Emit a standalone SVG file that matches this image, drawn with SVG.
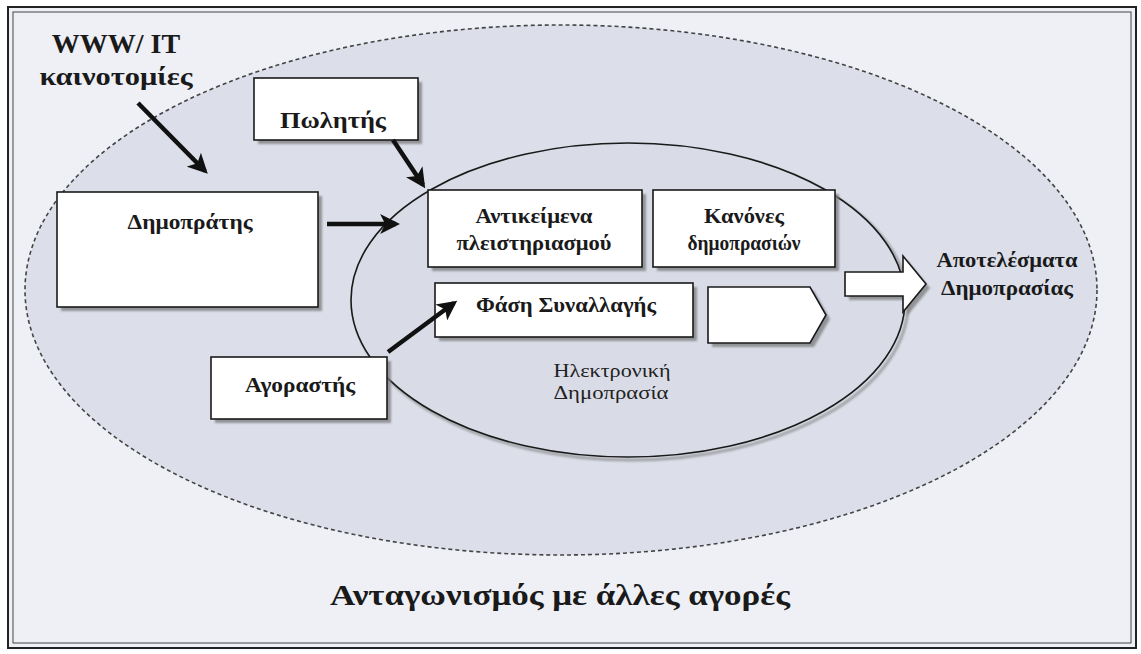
<svg xmlns="http://www.w3.org/2000/svg" width="1141" height="654" viewBox="0 0 1141 654">
<defs>
<style>
.bx{fill:#ffffff;stroke:#1a1a1a;stroke-width:1.6}
.sh{fill:#7a7a7a;opacity:0.75;filter:url(#blur)}
.lb{font-family:"Liberation Serif","DejaVu Serif",serif;font-weight:bold;fill:#1a1a1a;text-anchor:middle}
.nl{font-family:"Liberation Serif","DejaVu Serif",serif;fill:#222;text-anchor:middle}
.ar{stroke:#111;stroke-width:4.5;fill:none;marker-end:url(#ah)}
</style>
<filter id="blur" x="-10%" y="-10%" width="130%" height="130%"><feGaussianBlur stdDeviation="1.2"/></filter>
<marker id="ah" viewBox="0 0 10 10" refX="8" refY="5" markerWidth="4.4" markerHeight="4.4" orient="auto" markerUnits="strokeWidth">
<path d="M0,0 L10,5 L0,10 L2.5,5 z" fill="#111"/>
</marker>
</defs>
<rect x="0" y="0" width="1141" height="654" fill="#ffffff"/>
<rect x="8" y="7" width="1128" height="641" fill="#eef0f6" stroke="#222" stroke-width="2"/>
<rect x="13" y="12" width="1118" height="631" fill="none" stroke="#444" stroke-width="1"/>
<g id="market">
<ellipse cx="561" cy="290" rx="536" ry="265" fill="#dcdfea" stroke="#444" stroke-width="1.6" stroke-dasharray="4,3"/>
</g>
<g id="auction">
<ellipse cx="631" cy="303" rx="277" ry="157" fill="none" stroke="#888" stroke-width="3" opacity="0.7" filter="url(#blur)"/>
<ellipse cx="628" cy="300" rx="277" ry="157" fill="#d9dce7" stroke="#1a1a1a" stroke-width="1.6"/>
<text class="nl" x="612" y="377" font-size="19" textLength="117" lengthAdjust="spacingAndGlyphs">Ηλεκτρονική</text>
<text class="nl" x="611" y="399" font-size="19" textLength="115" lengthAdjust="spacingAndGlyphs">Δημοπρασία</text>
</g>
<g id="www">
<text class="lb" x="116" y="53" font-size="28">WWW/ IT</text>
<text class="lb" x="116" y="85" font-size="26" textLength="153" lengthAdjust="spacingAndGlyphs">καινοτομίες</text>
</g>
<g id="seller">
<rect class="sh" x="258" y="82" width="164" height="62"/>
<rect class="bx" x="254" y="78" width="164" height="62"/>
<text class="lb" x="333" y="128" font-size="23" textLength="106" lengthAdjust="spacingAndGlyphs">Πωλητής</text>
</g>
<g id="auctioneer">
<rect class="sh" x="61" y="196" width="261" height="115"/>
<rect class="bx" x="57" y="192" width="261" height="115"/>
<text class="lb" x="190" y="229" font-size="21" textLength="125" lengthAdjust="spacingAndGlyphs">Δημοπράτης</text>
</g>
<g id="items">
<rect class="sh" x="432" y="194" width="214" height="77"/>
<rect class="bx" x="428" y="190" width="214" height="77"/>
<text class="lb" x="534" y="223" font-size="21" textLength="117" lengthAdjust="spacingAndGlyphs">Αντικείμενα</text>
<text class="lb" x="534" y="250" font-size="21" textLength="155" lengthAdjust="spacingAndGlyphs">πλειστηριασμού</text>
</g>
<g id="rules">
<rect class="sh" x="657" y="194" width="182" height="77"/>
<rect class="bx" x="653" y="190" width="182" height="77"/>
<text class="lb" x="744" y="223" font-size="21" textLength="80" lengthAdjust="spacingAndGlyphs">Κανόνες</text>
<text class="lb" x="744" y="250" font-size="21" textLength="113" lengthAdjust="spacingAndGlyphs">δημοπρασιών</text>
</g>
<g id="phase">
<rect class="sh" x="439" y="287" width="258" height="54"/>
<rect class="bx" x="435" y="283" width="258" height="54"/>
<text class="lb" x="566" y="312" font-size="21" textLength="180" lengthAdjust="spacingAndGlyphs">Φάση Συναλλαγής</text>
</g>
<g id="phase-arrow">
<polygon class="sh" points="712,291 814,291 830,319 814,347 712,347"/>
<polygon class="bx" points="708,287 810,287 826,315 810,343 708,343"/>
</g>
<g id="buyer">
<rect class="sh" x="215" y="361" width="176" height="62"/>
<rect class="bx" x="211" y="357" width="176" height="62"/>
<text class="lb" x="300" y="392" font-size="21" textLength="110" lengthAdjust="spacingAndGlyphs">Αγοραστής</text>
</g>
<g id="result-arrow">
<polygon class="sh" points="849,276 907,276 907,260 930,288 907,316 907,300 849,300"/>
<polygon class="bx" points="845,272 903,272 903,256 926,284 903,312 903,296 845,296"/>
</g>
<g id="results">
<text class="lb" x="1007" y="267" font-size="21" textLength="141" lengthAdjust="spacingAndGlyphs">Αποτελέσματα</text>
<text class="lb" x="1007" y="295" font-size="21" textLength="132" lengthAdjust="spacingAndGlyphs">Δημοπρασίας</text>
</g>
<g id="competition">
<text class="lb" x="560" y="605" font-size="30" textLength="460" lengthAdjust="spacingAndGlyphs">Ανταγωνισμός με άλλες αγορές</text>
</g>
<g id="connectors">
<line class="ar" x1="138" y1="103" x2="205" y2="171"/>
<line class="ar" x1="393" y1="140" x2="423" y2="185"/>
<line class="ar" x1="327" y1="224" x2="396" y2="224"/>
<line class="ar" x1="388" y1="352" x2="454" y2="303"/>
</g>
</svg>
